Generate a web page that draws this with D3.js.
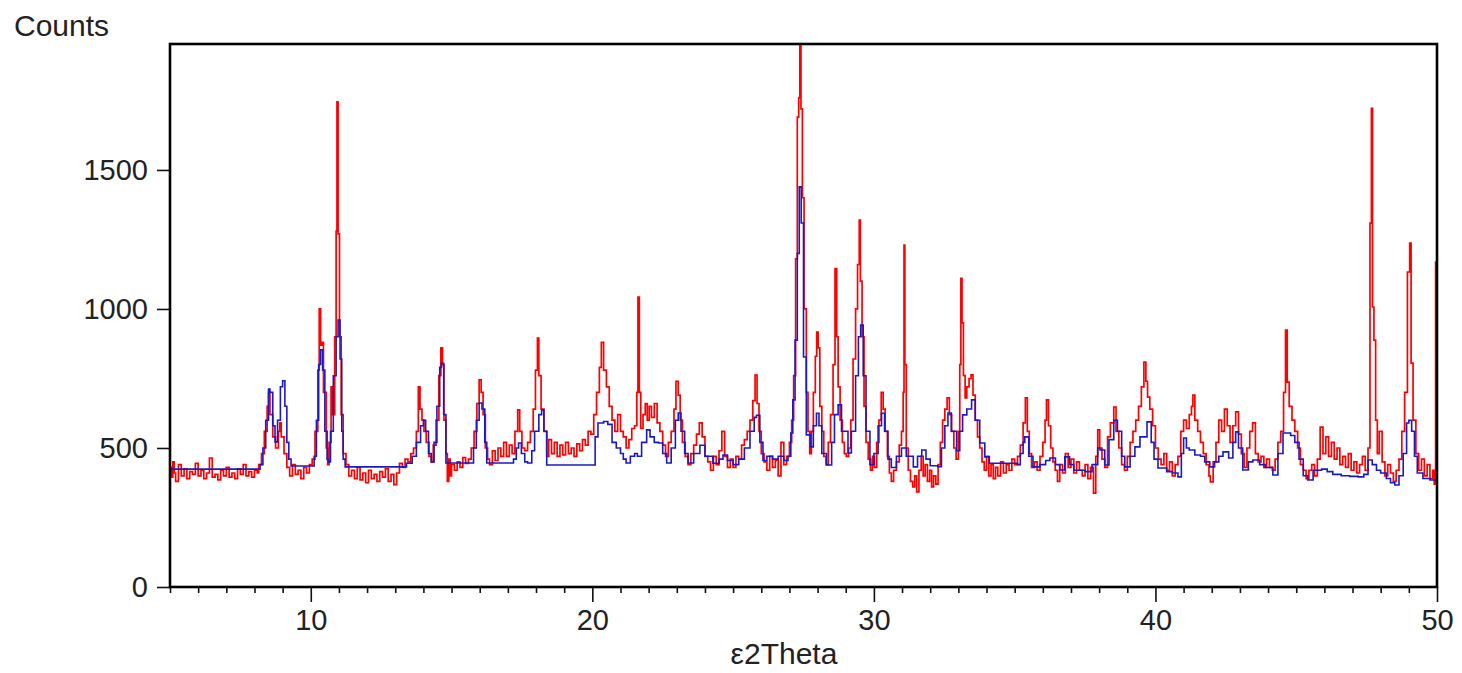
<!DOCTYPE html>
<html>
<head>
<meta charset="utf-8">
<script src="https://cdn.jsdelivr.net/npm/d3@7"></script>
<style>
  html, body { margin: 0; padding: 0; background: #fff; }
  svg { display: block; }
  text { font-family: "Liberation Sans", Arial, sans-serif; fill: #222; }
</style>
</head>
<body>
<svg id="chart" width="1462" height="673"></svg>
<script>
// Axis settings
const xDomain = [5, 50];
const yDomain = [0, 1953];
const yTickValues = [0, 500, 1000, 1500];
const xMajorTicks = [10, 20, 30, 40, 50];
const xMinorTicks = d3.range(5, 51, 1);
const xTitle = "ε2Theta";
const yTitle = "Counts";

// Measured diffraction pattern: [2θ, counts]
const observed = [
  [5.0,430],[5.05,395],[5.1,450],[5.15,410],[5.2,380],[5.3,440],[5.4,400],[5.5,425],[5.6,390],[5.7,415],
  [5.8,405],[5.9,445],[6.0,400],[6.1,420],[6.2,390],[6.3,410],[6.4,464],[6.5,395],[6.6,405],[6.7,385],
  [6.8,420],[6.9,400],[7.0,430],[7.1,395],[7.2,410],[7.3,390],[7.4,425],[7.5,405],[7.6,440],[7.7,400],
  [7.8,415],[7.9,395],[8.0,420],[8.1,410],[8.15,440],[8.25,480],[8.35,560],[8.45,650],[8.5,700],[8.55,620],
  [8.65,540],[8.75,500],[8.85,560],[8.9,590],[8.95,540],[9.05,480],[9.15,430],[9.25,400],[9.35,440],[9.45,405],
  [9.55,420],[9.65,390],[9.75,430],[9.85,410],[9.95,440],[10.05,460],[10.15,560],[10.25,780],[10.3,1000],[10.35,870],
  [10.4,880],[10.45,700],[10.55,500],[10.6,440],[10.65,520],[10.72,720],[10.78,620],[10.85,900],[10.9,1280],[10.93,1745],
  [10.97,1270],[11.02,900],[11.08,620],[11.15,480],[11.25,440],[11.35,400],[11.45,420],[11.55,390],[11.65,430],[11.75,385],
  [11.85,410],[11.95,375],[12.05,420],[12.15,390],[12.25,405],[12.35,380],[12.45,415],[12.55,395],[12.65,425],[12.75,380],
  [12.85,405],[12.95,368],[13.05,410],[13.15,445],[13.25,430],[13.35,460],[13.45,450],[13.55,480],[13.65,500],[13.75,560],
  [13.82,720],[13.88,640],[13.95,600],[14.02,560],[14.1,520],[14.2,470],[14.28,450],[14.35,510],[14.45,600],[14.55,760],
  [14.62,860],[14.68,800],[14.73,600],[14.8,480],[14.85,380],[14.9,460],[14.95,400],[15.0,440],[15.1,420],[15.2,450],
  [15.3,430],[15.4,465],[15.5,445],[15.6,460],[15.7,500],[15.8,560],[15.9,660],[15.98,745],[16.05,700],[16.12,620],
  [16.2,500],[16.28,460],[16.35,440],[16.45,490],[16.55,455],[16.65,500],[16.75,470],[16.85,520],[16.95,470],[17.05,510],
  [17.15,480],[17.25,560],[17.35,637],[17.42,560],[17.5,500],[17.6,490],[17.7,520],[17.8,560],[17.9,640],[17.98,780],
  [18.05,895],[18.1,760],[18.18,640],[18.28,560],[18.38,470],[18.45,530],[18.55,480],[18.65,520],[18.75,470],[18.85,510],
  [18.95,475],[19.05,520],[19.15,480],[19.25,500],[19.35,470],[19.45,515],[19.55,490],[19.65,530],[19.75,510],[19.85,560],
  [19.95,550],[20.05,620],[20.15,700],[20.25,790],[20.32,880],[20.4,780],[20.5,720],[20.6,650],[20.7,600],[20.8,560],
  [20.9,620],[21.0,560],[21.1,540],[21.2,500],[21.3,530],[21.4,570],[21.5,580],[21.58,700],[21.62,1043],[21.67,700],
  [21.72,570],[21.8,620],[21.88,660],[21.95,600],[22.02,650],[22.1,610],[22.2,660],[22.3,590],[22.4,560],[22.5,510],
  [22.6,470],[22.7,520],[22.8,560],[22.9,640],[22.97,740],[23.05,690],[23.12,600],[23.2,520],[23.3,470],[23.4,440],
  [23.5,480],[23.6,510],[23.7,550],[23.8,590],[23.9,540],[24.0,470],[24.1,450],[24.2,420],[24.3,470],[24.4,440],
  [24.5,490],[24.6,560],[24.7,470],[24.8,430],[24.9,460],[25.0,430],[25.1,470],[25.2,460],[25.3,510],[25.4,530],
  [25.5,560],[25.6,600],[25.7,670],[25.78,762],[25.85,660],[25.92,560],[26.0,480],[26.1,450],[26.2,420],[26.3,470],
  [26.4,430],[26.5,455],[26.6,400],[26.7,520],[26.8,440],[26.9,470],[27.0,520],[27.08,600],[27.15,760],[27.22,1180],
  [27.28,1690],[27.33,1760],[27.37,1953],[27.41,1720],[27.46,1400],[27.52,1000],[27.6,700],[27.66,560],[27.72,480],[27.78,560],
  [27.85,700],[27.92,830],[27.97,917],[28.02,860],[28.08,650],[28.15,560],[28.22,470],[28.3,440],[28.38,520],[28.46,620],
  [28.55,800],[28.62,1145],[28.68,900],[28.73,720],[28.8,600],[28.88,520],[28.95,480],[29.02,470],[29.1,500],[29.18,600],
  [29.26,820],[29.35,1000],[29.42,1160],[29.48,1320],[29.52,1100],[29.58,900],[29.65,650],[29.72,520],[29.8,460],[29.88,420],
  [29.95,470],[30.02,430],[30.1,520],[30.18,600],[30.26,700],[30.33,640],[30.4,560],[30.48,470],[30.55,410],[30.62,380],
  [30.7,420],[30.8,450],[30.9,510],[30.98,560],[31.04,700],[31.07,1230],[31.1,800],[31.15,500],[31.22,420],[31.3,380],
  [31.38,360],[31.45,400],[31.52,342],[31.6,420],[31.68,470],[31.75,400],[31.82,440],[31.9,380],[31.98,420],[32.05,360],
  [32.12,400],[32.2,370],[32.28,440],[32.36,520],[32.44,600],[32.52,640],[32.6,680],[32.68,620],[32.76,560],[32.84,500],
  [32.92,460],[33.0,560],[33.05,800],[33.09,1110],[33.13,950],[33.18,760],[33.24,680],[33.3,720],[33.38,750],[33.45,763],
  [33.52,690],[33.6,600],[33.68,540],[33.76,500],[33.84,450],[33.92,420],[34.0,470],[34.08,400],[34.16,440],[34.24,390],
  [34.32,430],[34.4,400],[34.5,450],[34.6,410],[34.7,440],[34.8,420],[34.9,460],[35.0,440],[35.1,470],[35.2,510],
  [35.3,590],[35.38,680],[35.45,560],[35.52,480],[35.6,430],[35.7,450],[35.8,420],[35.9,470],[36.0,520],[36.08,600],
  [36.13,673],[36.2,580],[36.28,500],[36.36,450],[36.44,420],[36.52,380],[36.6,440],[36.7,410],[36.8,480],[36.9,430],
  [37.0,460],[37.1,410],[37.2,450],[37.3,420],[37.4,400],[37.5,440],[37.6,390],[37.7,430],[37.8,338],[37.88,470],
  [37.95,565],[38.02,500],[38.1,460],[38.2,430],[38.3,540],[38.4,590],[38.52,647],[38.6,560],[38.7,500],[38.8,440],
  [38.9,420],[39.0,470],[39.1,520],[39.2,560],[39.3,600],[39.4,650],[39.5,720],[39.59,809],[39.66,740],[39.72,683],
  [39.8,640],[39.9,580],[40.0,500],[40.1,460],[40.2,440],[40.3,480],[40.4,420],[40.5,450],[40.6,400],[40.7,440],
  [40.8,470],[40.9,560],[41.0,600],[41.1,570],[41.2,620],[41.28,650],[41.33,690],[41.4,600],[41.5,560],[41.6,520],
  [41.7,480],[41.8,440],[41.9,400],[41.95,378],[42.05,450],[42.15,520],[42.25,600],[42.35,560],[42.45,640],[42.55,580],
  [42.65,520],[42.75,580],[42.85,630],[42.95,550],[43.05,480],[43.15,430],[43.25,500],[43.35,560],[43.45,590],[43.55,480],
  [43.65,450],[43.75,470],[43.85,430],[43.95,460],[44.05,430],[44.15,420],[44.25,460],[44.35,520],[44.45,560],[44.55,700],
  [44.62,924],[44.68,737],[44.75,650],[44.85,600],[44.95,560],[45.05,500],[45.15,440],[45.25,420],[45.35,390],[45.45,420],
  [45.55,440],[45.65,400],[45.75,460],[45.85,575],[45.95,480],[46.05,540],[46.15,470],[46.25,520],[46.35,460],[46.45,500],
  [46.55,440],[46.65,470],[46.75,430],[46.85,480],[46.95,420],[47.05,450],[47.15,410],[47.25,440],[47.35,470],[47.45,420],
  [47.55,500],[47.62,1309],[47.67,1722],[47.71,1007],[47.76,888],[47.82,600],[47.88,480],[47.95,560],[48.05,450],[48.15,400],
  [48.25,440],[48.35,410],[48.45,380],[48.55,420],[48.65,460],[48.75,560],[48.85,700],[48.95,1133],[49.03,1237],[49.08,805],
  [49.15,600],[49.25,480],[49.35,420],[49.45,460],[49.55,400],[49.65,440],[49.75,390],[49.85,420],[49.9,370],[49.93,400],
  [49.95,1169],[50.0,1169]
];

// Calculated profile: [2θ, counts]
const calculated = [
  [5.0,424],[8.1,424],[8.2,440],[8.3,500],[8.4,600],[8.5,712],[8.55,700],[8.65,580],[8.73,522],[8.82,600],
  [8.92,720],[9.0,742],[9.08,650],[9.15,520],[9.22,460],[9.3,435],[10.05,435],[10.12,470],[10.2,600],[10.28,800],
  [10.35,853],[10.42,780],[10.5,560],[10.58,460],[10.62,450],[10.7,560],[10.8,760],[10.9,900],[10.97,960],[11.04,820],
  [11.1,560],[11.15,460],[11.22,432],[13.2,432],[13.4,445],[13.6,470],[13.75,520],[13.9,580],[14.0,600],[14.08,560],
  [14.18,480],[14.28,450],[14.38,520],[14.48,650],[14.58,790],[14.64,805],[14.72,620],[14.8,446],[15.7,446],[15.78,500],
  [15.88,600],[15.98,662],[16.08,640],[16.18,520],[16.25,446],[17.2,460],[17.3,500],[17.38,518],[17.48,480],[17.6,450],
  [17.7,446],[17.85,490],[17.95,560],[18.1,620],[18.2,637],[18.28,560],[18.38,439],[20.0,439],[20.1,540],[20.2,590],
  [20.4,595],[20.55,585],[20.7,520],[20.85,500],[21.0,480],[21.1,460],[21.2,446],[21.35,470],[21.5,480],[21.6,470],
  [21.75,520],[21.93,565],[22.05,540],[22.2,520],[22.35,518],[22.5,480],[22.64,446],[22.8,500],[22.95,600],[23.05,626],
  [23.15,560],[23.28,480],[23.4,446],[23.6,480],[23.82,510],[24.0,470],[24.28,445],[24.5,460],[24.64,475],[24.8,455],
  [25.0,440],[25.2,460],[25.4,500],[25.6,560],[25.75,610],[25.83,618],[25.95,520],[26.06,455],[26.2,470],[26.4,460],
  [26.6,470],[26.8,455],[26.95,470],[27.05,554],[27.12,673],[27.2,888],[27.28,1200],[27.35,1439],[27.42,1309],[27.5,827],
  [27.6,547],[27.75,504],[27.85,580],[27.96,625],[28.05,580],[28.15,480],[28.32,439],[28.5,520],[28.6,620],[28.73,655],
  [28.85,560],[29.08,482],[29.2,560],[29.35,760],[29.45,900],[29.53,942],[29.62,760],[29.72,560],[29.86,440],[30.0,480],
  [30.15,580],[30.27,625],[30.38,560],[30.5,460],[30.62,430],[30.8,470],[30.98,500],[31.15,470],[31.4,432],[31.55,470],
  [31.7,493],[31.85,460],[32.0,436],[32.27,433],[32.4,500],[32.52,580],[32.63,626],[32.75,560],[32.94,490],[33.05,560],
  [33.15,619],[33.3,640],[33.47,673],[33.6,600],[33.76,518],[33.94,468],[34.1,445],[35.1,440],[35.2,480],[35.3,520],
  [35.36,540],[35.5,470],[35.65,432],[35.9,440],[36.1,455],[36.25,464],[36.45,440],[36.6,421],[36.78,468],[36.95,440],
  [37.1,420],[37.5,415],[37.75,440],[37.95,500],[38.03,493],[38.2,439],[38.35,530],[38.52,600],[38.65,560],[38.8,470],
  [38.91,432],[39.1,470],[39.27,504],[39.45,540],[39.7,594],[39.85,520],[39.95,460],[40.09,428],[40.4,415],[40.6,410],
  [40.8,396],[40.92,480],[41.0,536],[41.1,500],[41.2,493],[41.4,475],[41.6,470],[41.75,450],[41.93,432],[42.1,450],
  [42.25,470],[42.4,486],[42.6,464],[42.75,520],[42.85,558],[42.95,500],[43.1,421],[43.3,450],[43.46,457],[43.7,440],
  [43.9,430],[44.17,403],[44.35,480],[44.53,554],[44.65,554],[44.8,545],[44.95,520],[45.1,460],[45.25,400],[45.41,385],
  [45.6,420],[45.9,424],[46.1,415],[46.3,405],[46.6,400],[46.9,398],[47.2,396],[47.4,405],[47.55,457],[47.7,440],
  [47.85,420],[48.0,410],[48.2,390],[48.35,375],[48.5,367],[48.65,400],[48.8,480],[48.92,590],[49.0,600],[49.1,560],
  [49.2,470],[49.3,410],[49.5,390],[49.75,385],[50.0,374]
];

const svg = d3.select("#chart");
const plot = { left: 170, right: 1437, top: 44, bottom: 587 };

const x = d3.scaleLinear().domain(xDomain).range([plot.left, plot.right]);
const y = d3.scaleLinear().domain(yDomain).range([plot.bottom, plot.top]);

svg.append("defs").append("clipPath").attr("id", "plot-clip")
  .append("rect")
  .attr("x", plot.left).attr("y", plot.top)
  .attr("width", plot.right - plot.left).attr("height", plot.bottom - plot.top);

const line = d3.line().x(d => x(d[0])).y(d => y(d[1])).curve(d3.curveStepAfter);

const series = svg.append("g").attr("clip-path", "url(#plot-clip)");
series.append("path").datum(observed)
  .attr("d", line).attr("fill", "none")
  .attr("stroke", "#ff0000").attr("stroke-width", 1.7).attr("stroke-linejoin", "miter");
series.append("path").datum(calculated)
  .attr("d", line).attr("fill", "none")
  .attr("stroke", "#1a1ac4").attr("stroke-width", 1.6);

// Y axis
const yAxis = svg.append("g")
  .attr("transform", `translate(${plot.left},0)`)
  .call(d3.axisLeft(y).tickValues(yTickValues).tickSize(13).tickPadding(9).tickFormat(d3.format("d")));
yAxis.select(".domain").remove();
yAxis.selectAll(".tick line").attr("stroke", "#111").attr("stroke-width", 1.6);
yAxis.selectAll(".tick text").attr("font-size", 29).attr("fill", "#222");

// X axis: minor ticks every degree, major ticks with labels every 10
const xAxis = svg.append("g")
  .attr("transform", `translate(0,${plot.bottom})`)
  .call(d3.axisBottom(x).tickValues(xMinorTicks).tickSize(6).tickPadding(6)
    .tickFormat(d => xMajorTicks.includes(d) ? d : ""));
xAxis.select(".domain").remove();
xAxis.selectAll(".tick line").attr("stroke", "#111").attr("stroke-width", 1.6)
  .attr("y2", d => xMajorTicks.includes(d) ? 15 : 6);
xAxis.selectAll(".tick text").attr("font-size", 29).attr("fill", "#222").attr("y", 22);

// Frame
svg.append("rect")
  .attr("x", plot.left).attr("y", plot.top)
  .attr("width", plot.right - plot.left).attr("height", plot.bottom - plot.top)
  .attr("fill", "none").attr("stroke", "#000").attr("stroke-width", 2.6);

// Titles
svg.append("text").attr("x", 14).attr("y", 36).attr("font-size", 30).text(yTitle);
svg.append("text").attr("x", 784).attr("y", 664).attr("text-anchor", "middle")
  .attr("font-size", 30).text(xTitle);
</script>
</body>
</html>
